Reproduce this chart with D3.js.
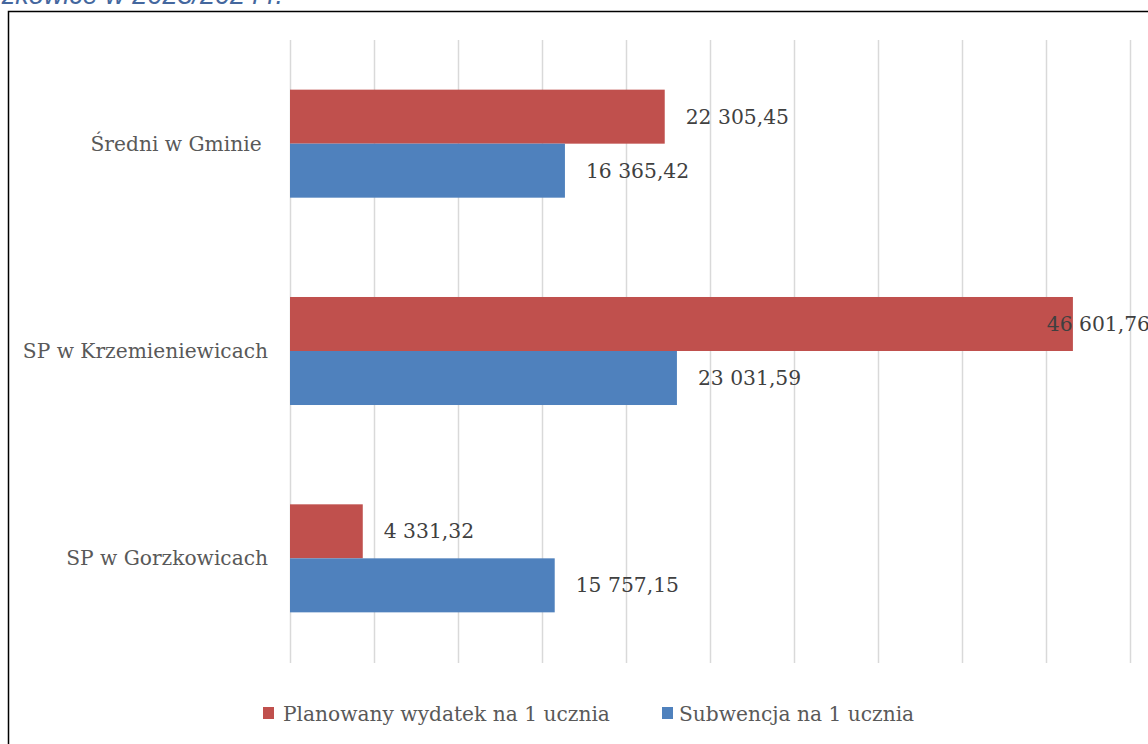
<!DOCTYPE html>
<html>
<head>
<meta charset="utf-8">
<script src="https://cdn.jsdelivr.net/npm/d3@7"></script>
<style>
  html, body { margin: 0; padding: 0; background: #fff; }
  svg { display: block; }
  text { white-space: pre; }
</style>
</head>
<body>
<svg id="chart" width="1148" height="744"></svg>
<script>
const categories = ["Średni w Gminie ", "SP w Krzemieniewicach", "SP w Gorzkowicach"];
const seriesNames = ["Planowany wydatek na 1 ucznia", "Subwencja na 1 ucznia"];
const planowany = [22305.45, 46601.76, 4331.32];
const subwencja = [16365.42, 23031.59, 15757.15];
const seriesColors = ["#C0504D", "#4F81BD"];
const xTicks = [0, 5000, 10000, 15000, 20000, 25000, 30000, 35000, 40000, 45000, 50000];
const titleText = "Gorzkowice w 2023/2024 r.";

const svg = d3.select("#chart");
const serif = "'DejaVu Serif', 'Liberation Serif', serif";
const fmt = v => {
  const s = v.toFixed(2).replace(".", ",");
  const [i, d] = s.split(",");
  return i.replace(/\B(?=(\d{3})+(?!\d))/g, " ") + "," + d;
};

// cut-off title above frame
svg.append("text")
  .attr("x", 283).attr("y", 4)
  .attr("text-anchor", "end")
  .attr("font-family", "'Liberation Sans', Arial, sans-serif")
  .attr("font-style", "italic")
  .attr("font-size", 27)
  .attr("fill", "#44679E")
  .text(titleText);

// frame
svg.append("rect")
  .attr("x", 8.5).attr("y", 11.5)
  .attr("width", 1200).attr("height", 800)
  .attr("fill", "#fff")
  .attr("stroke", "#000").attr("stroke-width", 1.5);

const x = d3.scaleLinear().domain([0, 50000]).range([290, 1130]);
const y = d3.scaleBand().domain(categories).range([40, 662])
  .paddingInner(0.479).paddingOuter(0.2395);
const ySub = d3.scaleBand().domain(seriesNames).range([0, y.bandwidth()]);

// gridlines
svg.append("g").selectAll("line").data(xTicks).join("line")
  .attr("x1", d => x(d) + 0.5).attr("x2", d => x(d) + 0.5)
  .attr("y1", 40).attr("y2", 663)
  .attr("stroke", "#D9D9D9").attr("stroke-width", 1.5);

const rows = categories.map((c, i) => ({cat: c, vals: [planowany[i], subwencja[i]]}));

const g = svg.append("g");
rows.forEach(r => {
  r.vals.forEach((v, si) => {
    const yy = y(r.cat) + ySub(seriesNames[si]);
    g.append("rect")
      .attr("x", x(0)).attr("y", yy)
      .attr("width", x(v) - x(0)).attr("height", ySub.bandwidth())
      .attr("fill", seriesColors[si]);
    const t = g.append("text")
      .attr("y", yy + ySub.bandwidth() / 2)
      .attr("dominant-baseline", "central")
      .attr("font-family", serif)
      .attr("font-size", 20.3)
      .attr("fill", "#404040")
      .text(fmt(v));
    const w = t.node().getComputedTextLength();
    t.attr("x", Math.min(x(v) + 21, 1150 - w));
  });
});

// category labels
svg.append("g").selectAll("text").data(categories).join("text")
  .attr("x", 268)
  .attr("y", d => y(d) + y.bandwidth() / 2)
  .attr("text-anchor", "end")
  .attr("dominant-baseline", "central")
  .attr("font-family", serif)
  .attr("font-size", 20.2)
  .attr("fill", "#595959")
  .text(d => d);

// legend
const leg = svg.append("g");
const legX = [263, 662];
seriesNames.forEach((n, i) => {
  leg.append("rect")
    .attr("x", legX[i]).attr("y", 707)
    .attr("width", 11).attr("height", 12)
    .attr("fill", seriesColors[i]);
  leg.append("text")
    .attr("x", legX[i] + (i === 0 ? 20 : 17)).attr("y", 714)
    .attr("dominant-baseline", "central")
    .attr("font-family", serif)
    .attr("font-size", 20.2)
    .attr("fill", "#595959")
    .text(n);
});
</script>
</body>
</html>
